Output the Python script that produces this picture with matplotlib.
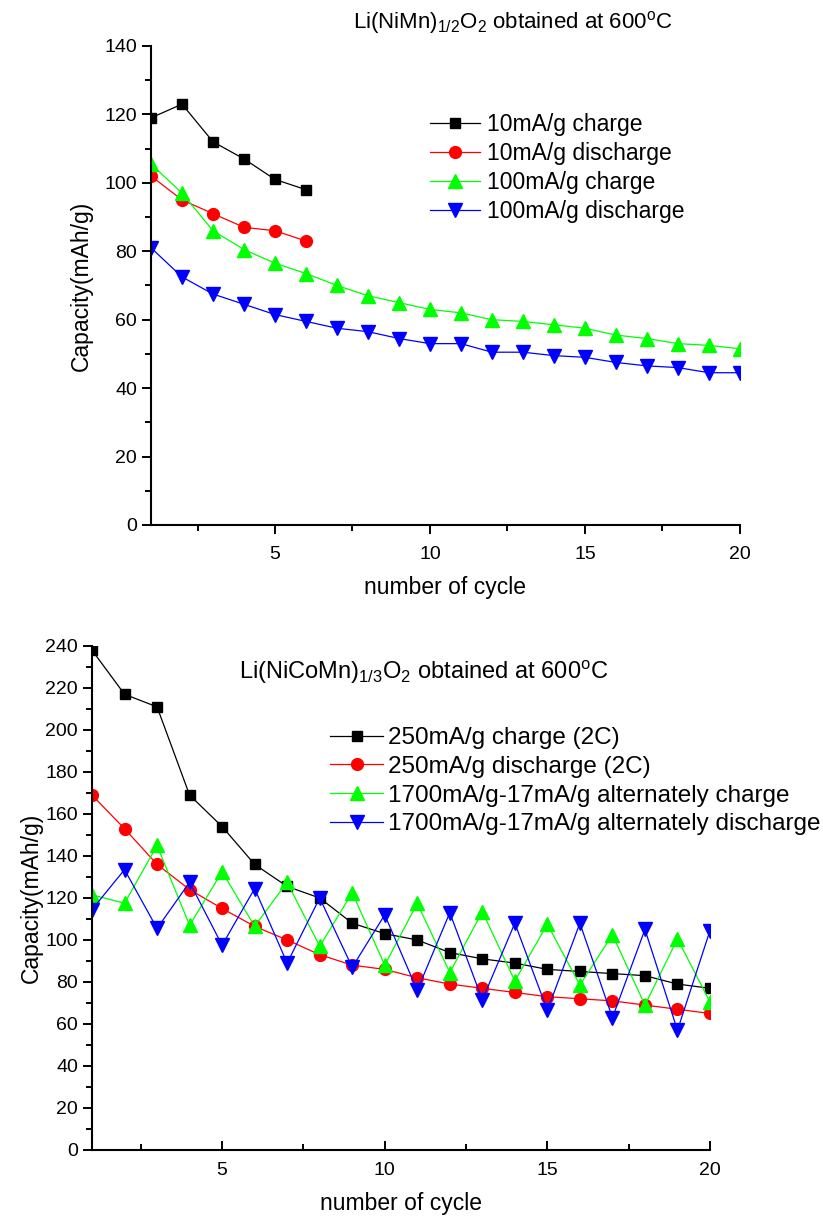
import matplotlib
matplotlib.use('Agg')
import matplotlib.pyplot as plt
from matplotlib.ticker import MultipleLocator

plt.rcParams['font.family'] = ['Liberation Sans', 'DejaVu Sans']
plt.rcParams['mathtext.fontset'] = 'custom'
plt.rcParams['mathtext.rm'] = 'Liberation Sans'
plt.rcParams['mathtext.it'] = 'Liberation Sans:italic'

# top panel: Li(NiMn)1/2O2
cyc_a = list(range(1, 21))
chg_10 = [119, 123, 112, 107, 101, 98]
dis_10 = [102, 95, 91, 87, 86, 83]
chg_100 = [105.5, 97, 86, 80.5, 76.5, 73.5, 70, 67, 65, 63,
           62, 60, 59.5, 58.5, 57.5, 55.5, 54.5, 53, 52.5, 51.5]
dis_100 = [81, 72.5, 67.5, 64.5, 61.5, 59.5, 57.5, 56.5, 54.5, 53,
           53, 50.5, 50.5, 49.5, 49, 47.5, 46.5, 46, 44.5, 44.5]
labels_a = ['10mA/g charge', '10mA/g discharge', '100mA/g charge', '100mA/g discharge']

# bottom panel: Li(NiCoMn)1/3O2
cyc_b = list(range(1, 21))
chg_250 = [238, 217, 211, 169, 154, 136, 125.5, 120, 108, 103,
           100, 94, 91, 89, 86, 85, 84, 83, 79, 77]
dis_250 = [169, 153, 136, 124, 115, 106.5, 100, 93, 88, 86,
           82, 79, 77, 75, 73, 72, 71, 69, 67, 65]
chg_alt = [121.5, 117.5, 145, 107, 132.5, 106.5, 127.5, 97, 122.5, 88,
           117.5, 84.5, 113.5, 80.5, 107.5, 78.5, 102.5, 69, 100.5, 70.5]
dis_alt = [114.5, 133.5, 105.5, 127.5, 97.5, 124.5, 89, 120, 87, 112,
           76, 113, 71.5, 108, 66.5, 108, 63, 105, 57, 104.5]
labels_b = ['250mA/g charge (2C)', '250mA/g discharge (2C)',
            '1700mA/g-17mA/g alternately charge', '1700mA/g-17mA/g alternately discharge']

cols = ['#000000', '#ff0000', '#00ff00', '#0000ff']
marks = ['s', 'o', '^', 'v']
msz = [7.5, 8.5, 9.5, 9.5]

fig = plt.figure(figsize=(8.23, 12.2), dpi=100)
ax1 = fig.add_axes([0.1835, 0.5697, 0.899 - 0.1835, 0.9623 - 0.5697])
ax2 = fig.add_axes([0.1118, 0.0574, 0.8627 - 0.1118, 0.4705 - 0.0574])

series_a = [(cyc_a[:6], chg_10), (cyc_a[:6], dis_10), (cyc_a, chg_100), (cyc_a, dis_100)]
for (x, y), c, m, s, lab in zip(series_a, cols, marks, msz, labels_a):
    ax1.plot(x, y, color=c, lw=0.9, marker=m, ms=s, mec=c, mfc=c, label=lab)

series_b = [chg_250, dis_250, chg_alt, dis_alt]
for y, c, m, s, lab in zip(series_b, cols, marks, msz, labels_b):
    ax2.plot(cyc_b, y, color=c, lw=0.9, marker=m, ms=s, mec=c, mfc=c, label=lab)

ax1.set_xlim(1, 20)
ax1.set_ylim(0, 140)
ax2.set_xlim(1, 20)
ax2.set_ylim(0, 240)

for ax, xdir, ylp in [(ax1, 'out', 8), (ax2, 'in', 2)]:
    ax.spines['top'].set_visible(False)
    ax.spines['right'].set_visible(False)
    ax.spines['left'].set_linewidth(1.5)
    ax.spines['bottom'].set_linewidth(1.5)
    ax.xaxis.set_major_locator(MultipleLocator(5))
    ax.xaxis.set_minor_locator(MultipleLocator(2.5))
    ax.yaxis.set_major_locator(MultipleLocator(20))
    ax.yaxis.set_minor_locator(MultipleLocator(10))
    ax.tick_params(axis='x', which='both', direction=xdir, width=1.4, labelsize=14, pad=9)
    ax.tick_params(axis='y', which='both', direction='out', width=1.4, labelsize=14)
    ax.tick_params(which='major', length=6.5)
    ax.tick_params(which='minor', length=4)
    ax.set_xlabel('number of cycle', fontsize=16.5, labelpad=9)
    ax.set_ylabel('Capacity(mAh/g)', fontsize=16.5, labelpad=ylp)

fig.text(513 / 823, 1 - 22 / 1220, r'Li(NiMn)$_{1/2}$O$_2$ obtained at 600$^{\mathrm{o}}$C',
         fontsize=16, ha='center', va='center')
fig.text(424 / 823, 1 - 672 / 1220, r'Li(NiCoMn)$_{1/3}$O$_2$ obtained at 600$^{\mathrm{o}}$C',
         fontsize=17, ha='center', va='center')

ax1.legend(loc='upper left', bbox_to_anchor=(430 / 823, 1 - 113 / 1220), bbox_transform=fig.transFigure,
           frameon=False, fontsize=16.5, handlelength=2.2, handletextpad=0.3, labelspacing=0.26,
           borderpad=0, borderaxespad=0)
ax2.legend(loc='upper left', bbox_to_anchor=(330 / 823, 1 - 727 / 1220), bbox_transform=fig.transFigure,
           frameon=False, fontsize=17.5, handlelength=2.2, handletextpad=0.2, labelspacing=0.28,
           borderpad=0, borderaxespad=0)

fig.savefig('out.png', dpi=100)
